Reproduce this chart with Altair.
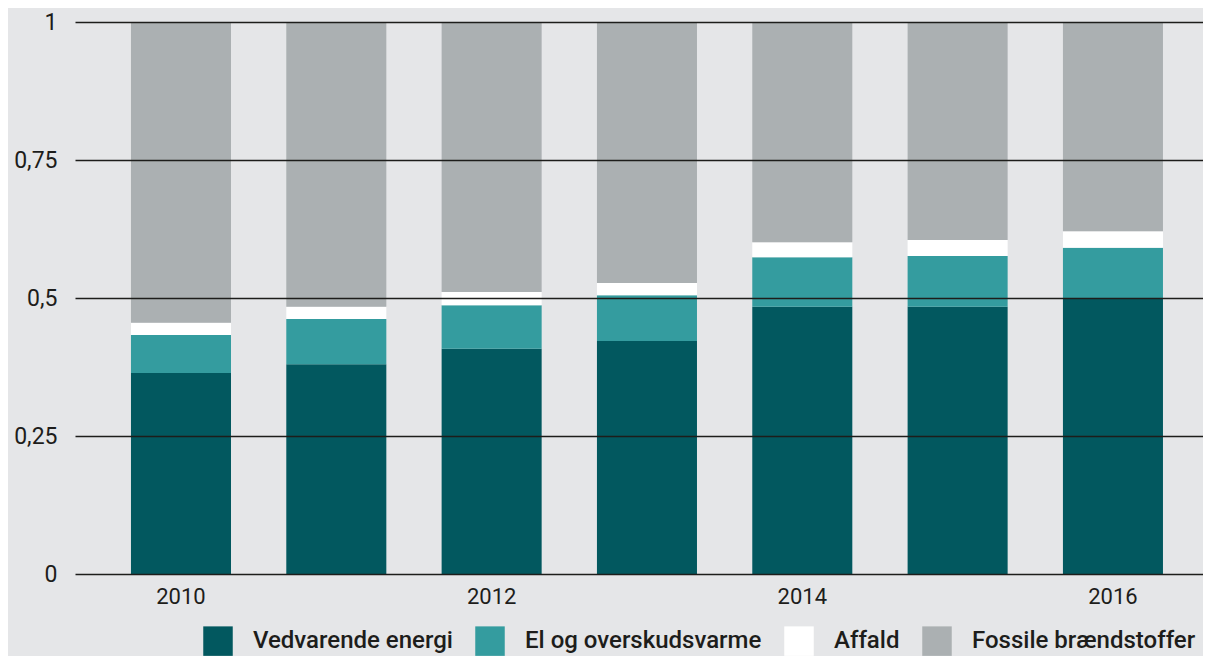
import altair as alt
import pandas as pd

years = ["2010", "2011", "2012", "2013", "2014", "2015", "2016"]
categories = ["Vedvarende energi", "El og overskudsvarme", "Affald", "Fossile brændstoffer"]
vedvarende = [0.364, 0.380, 0.408, 0.422, 0.484, 0.484, 0.500]
el = [0.069, 0.082, 0.079, 0.083, 0.090, 0.092, 0.091]
affald = [0.022, 0.022, 0.024, 0.022, 0.027, 0.029, 0.030]
fossile = [round(1 - a - b - c, 3) for a, b, c in zip(vedvarende, el, affald)]
colors = ["#02585f", "#349c9f", "#ffffff", "#abb0b2"]
y_ticks = [0, 0.25, 0.5, 0.75, 1]
x_labels = ["2010", "2012", "2014", "2016"]

rows = []
for series_idx, (cat, vals) in enumerate(zip(categories, [vedvarende, el, affald, fossile])):
    for yr, v in zip(years, vals):
        rows.append({"year": yr, "kategori": cat, "andel": v, "idx": series_idx})
df = pd.DataFrame(rows)

FONT = "Roboto"
TXT = "#1d1d1b"

chart = (
    alt.Chart(df)
    .mark_bar()
    .encode(
        x=alt.X(
            "year:N",
            sort=years,
            title=None,
            scale=alt.Scale(paddingInner=0.356, paddingOuter=0.309, align=0.583),
            axis=alt.Axis(
                values=x_labels,
                labelAngle=0,
                ticks=False,
                domain=False,
                labelFont=FONT,
                labelFontSize=22,
                labelColor=TXT,
                labelPadding=12,
            ),
        ),
        y=alt.Y(
            "andel:Q",
            stack="zero",
            title=None,
            scale=alt.Scale(domain=[0, 1], nice=False),
            axis=alt.Axis(
                values=y_ticks,
                labelExpr="replace(format(datum.value, '~g'), '.', ',')",
                ticks=False,
                domain=False,
                grid=True,
                gridColor="#1d1d1b",
                gridWidth=1.3,
                labelFont=FONT,
                labelFontSize=23,
                labelColor=TXT,
                labelPadding=18,
                zindex=1,
            ),
        ),
        color=alt.Color(
            "kategori:N",
            sort=categories,
            scale=alt.Scale(domain=categories, range=colors),
            legend=alt.Legend(
                title=None,
                orient="none",
                legendX=128,
                legendY=604,
                direction="horizontal",
                symbolType="square",
                symbolSize=870,
                symbolStrokeWidth=0,
                symbolOpacity=1,
                labelFont=FONT,
                labelFontSize=24,
                labelFontWeight=500,
                labelColor=TXT,
                labelOffset=20,
                columnPadding=22,
                padding=0,
                labelLimit=400,
            ),
        ),
        order=alt.Order("idx:Q", sort="ascending"),
    )
    .properties(
        width=1128,
        height=552,
        background="#e5e6e8",
        padding={"left": 67, "top": 14, "right": 0, "bottom": 82},
        autosize=alt.AutoSizeParams(type="none"),
    )
    .configure_view(stroke=None)
)

chart.save("out.html", embed_options={"renderer": "svg", "actions": False})
